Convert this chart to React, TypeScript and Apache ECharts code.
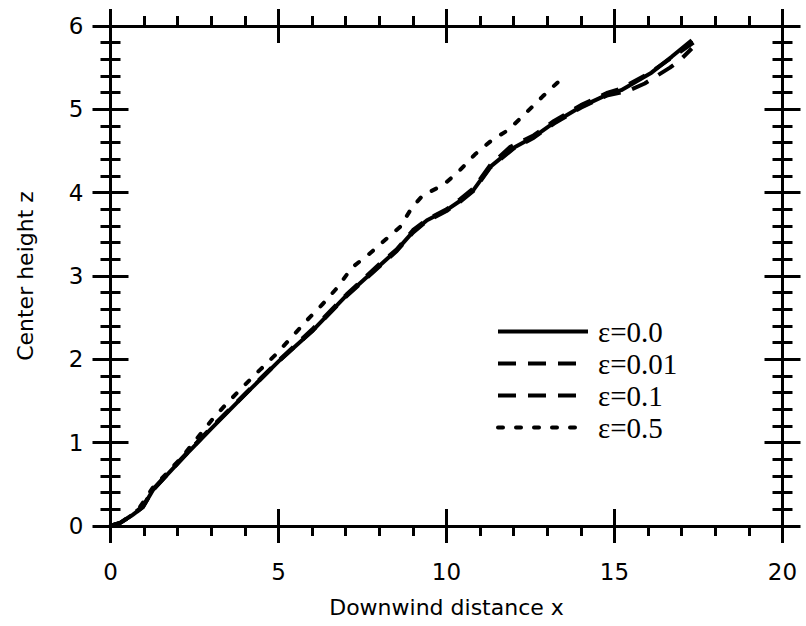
import React, { useEffect, useRef } from "react";
import * as echarts from "echarts";

const xTicks = [0, 5, 10, 15, 20];
const yTicks = [0, 1, 2, 3, 4, 5, 6];

const seriesNames = ["ε=0.0", "ε=0.01", "ε=0.1", "ε=0.5"];

const x00 = [0, 0.3, 0.65, 0.97, 1.26, 2.16, 3.05, 4.06, 5.04, 6.03, 7.03, 8.02, 8.52, 9.0, 9.42, 10.0, 10.4, 10.8, 11.3, 12.0, 12.6, 13.2, 14.0, 14.8, 15.2, 16.1, 16.7, 17.3];
const y00 = [0, 0.04, 0.13, 0.23, 0.43, 0.82, 1.19, 1.6, 1.99, 2.35, 2.77, 3.13, 3.31, 3.53, 3.67, 3.79, 3.9, 4.03, 4.31, 4.54, 4.67, 4.84, 5.03, 5.18, 5.23, 5.44, 5.63, 5.83];

const x001 = [0, 0.3, 0.65, 0.97, 1.26, 2.16, 3.05, 4.06, 5.04, 6.03, 7.03, 8.02, 8.52, 9.0, 9.42, 10.0, 10.4, 10.8, 11.3, 11.9, 12.6, 13.2, 14.0, 14.8, 15.2, 16.1, 16.7, 17.35];
const y001 = [0, 0.04, 0.14, 0.24, 0.44, 0.83, 1.2, 1.61, 2.0, 2.37, 2.78, 3.15, 3.32, 3.55, 3.68, 3.8, 3.92, 4.05, 4.33, 4.55, 4.69, 4.86, 5.05, 5.2, 5.25, 5.45, 5.62, 5.8];

const x01 = [0, 0.3, 0.65, 0.97, 1.26, 2.16, 3.05, 4.06, 5.04, 6.03, 7.03, 8.02, 8.52, 9.0, 9.42, 10.0, 10.4, 10.8, 11.3, 12.0, 12.6, 13.2, 14.0, 14.8, 15.4, 15.9, 16.65, 16.95, 17.3];
const y01 = [0, 0.04, 0.13, 0.23, 0.43, 0.82, 1.2, 1.6, 1.99, 2.35, 2.76, 3.12, 3.3, 3.52, 3.66, 3.78, 3.89, 4.02, 4.3, 4.53, 4.66, 4.83, 5.02, 5.17, 5.22, 5.31, 5.5, 5.59, 5.73];

const x05 = [0, 0.3, 0.6, 0.88, 1.26, 1.67, 2.13, 2.57, 3.01, 3.46, 3.94, 4.44, 4.95, 5.4, 5.85, 6.33, 6.77, 7.18, 7.66, 8.11, 8.62, 8.97, 9.3, 9.9, 10.4, 10.85, 11.35, 11.83, 12.3, 12.85, 13.3, 13.5];
const y05 = [0, 0.04, 0.12, 0.23, 0.46, 0.63, 0.83, 1.05, 1.27, 1.47, 1.67, 1.87, 2.07, 2.27, 2.47, 2.67, 2.87, 3.1, 3.25, 3.41, 3.59, 3.82, 3.97, 4.09, 4.27, 4.46, 4.63, 4.75, 4.93, 5.15, 5.32, 5.34];

const pairs = (xs: number[], ys: number[]) => xs.map((x, i) => [x, ys[i]]);

const BLACK = "#000";
const GRID = { left: 110.5, right: 23.5, top: 26, bottom: 100 };

export default function App() {
  const ref = useRef<HTMLDivElement>(null);
  useEffect(() => {
    if (!ref.current) return;
    const chart = echarts.init(ref.current, undefined, { renderer: "svg" });
    const xMin = xTicks[0];
    const xMax = xTicks[xTicks.length - 1];
    const xInt = xTicks[1] - xTicks[0];
    const yMin = yTicks[0];
    const yMax = yTicks[yTicks.length - 1];
    const yInt = yTicks[1] - yTicks[0];

    const axisLine = { show: true, onZero: false, lineStyle: { color: BLACK, width: 3 } };
    const mkX = (grid: number, position: string, inside: boolean, withLabel: boolean, minor: boolean) => ({
      type: "value",
      gridIndex: grid,
      position,
      min: xMin,
      max: xMax,
      interval: xInt,
      axisLine,
      splitLine: { show: false },
      axisTick: { show: true, inside, length: 17, lineStyle: { color: BLACK, width: 3 } },
      minorTick: { show: minor, splitNumber: 5, length: 10, lineStyle: { color: BLACK, width: 3 } },
      axisLabel: withLabel
        ? { show: true, margin: 34, color: BLACK, fontFamily: "DejaVu Sans", fontSize: 23 }
        : { show: false },
      ...(withLabel
        ? {
            name: "Downwind distance x",
            nameLocation: "middle",
            nameGap: 70,
            nameTextStyle: { color: BLACK, fontFamily: "DejaVu Sans", fontSize: 22 },
          }
        : {}),
    });
    const mkY = (grid: number, position: string, inside: boolean, withLabel: boolean) => ({
      type: "value",
      gridIndex: grid,
      position,
      min: yMin,
      max: yMax,
      interval: yInt,
      axisLine,
      splitLine: { show: false },
      axisTick: { show: true, inside, length: 18, lineStyle: { color: BLACK, width: 3 } },
      minorTick: { show: true, splitNumber: 5, length: 10, lineStyle: { color: BLACK, width: 3 } },
      axisLabel: withLabel
        ? { show: true, margin: 27, color: BLACK, fontFamily: "DejaVu Sans", fontSize: 23 }
        : { show: false },
      ...(withLabel
        ? {
            name: "Center height z",
            nameLocation: "middle",
            nameGap: 74,
            nameTextStyle: { color: BLACK, fontFamily: "DejaVu Sans", fontSize: 22 },
          }
        : {}),
    });

    const dataSets = [pairs(x00, y00), pairs(x001, y001), pairs(x01, y01), pairs(x05, y05)];
    const dashes: any[] = ["solid", [18, 12], [18, 12], [5, 13]];

    chart.setOption({
      animation: false,
      backgroundColor: "#fff",
      grid: [{ ...GRID }, { ...GRID }],
      xAxis: [
        mkX(0, "bottom", false, true, true),
        mkX(0, "top", false, false, true),
        mkX(1, "bottom", true, false, false),
        mkX(1, "top", true, false, false),
      ],
      yAxis: [
        mkY(0, "left", false, true),
        mkY(0, "right", false, false),
        mkY(1, "left", true, false),
        mkY(1, "right", true, false),
      ],
      legend: {
        orient: "vertical",
        left: 491,
        top: 312,
        itemWidth: 90,
        itemHeight: 20,
        itemGap: 3,
        data: seriesNames,
        lineStyle: { width: 4 },
        itemStyle: { color: "rgba(0,0,0,0)", borderColor: "rgba(0,0,0,0)", borderWidth: 0, opacity: 0 },
        textStyle: {
          color: BLACK,
          fontFamily: "Liberation Serif",
          fontSize: 29,
          lineHeight: 29,
          padding: [0, 0, 0, 5],
        },
      },
      series: seriesNames.map((name, i) => ({
        name,
        type: "line",
        xAxisIndex: 0,
        yAxisIndex: 0,
        symbol: "none",
        data: dataSets[i],
        lineStyle: {
          color: BLACK,
          width: 4,
          type: dashes[i],
          cap: i === 3 ? "round" : "butt",
        },
        itemStyle: { color: BLACK },
        z: 10 - i,
      })),
    });
    return () => chart.dispose();
  }, []);
  return (
    <div
      ref={ref}
      style={{ position: "absolute", left: 0, top: 0, width: 806, height: 626, background: "#fff" }}
    />
  );
}
